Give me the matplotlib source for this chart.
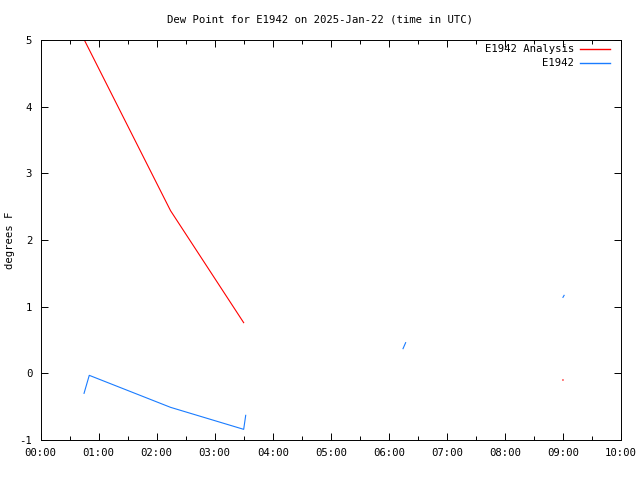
import numpy as np
import matplotlib
matplotlib.use("Agg")
import matplotlib.pyplot as plt
from matplotlib.lines import Line2D

# Data (time in hours UTC, values in degrees F); NaN breaks the line
analysis_t = [0.755, 2.24, 3.50, np.nan, 8.995, 9.005]
analysis_v = [5.00, 2.44, 0.76, np.nan, -0.10, -0.10]

obs_t = [0.75, 0.84, 2.24, 3.50, 3.535, np.nan, 6.245, 6.29, np.nan, 9.00, 9.02]
obs_v = [-0.30, -0.03, -0.51, -0.84, -0.63, np.nan, 0.37, 0.46, np.nan, 1.14, 1.17]

xtick_labels = ["00:00", "01:00", "02:00", "03:00", "04:00", "05:00",
                "06:00", "07:00", "08:00", "09:00", "10:00"]
yticks = [-1, 0, 1, 2, 3, 4, 5]

title = "Dew Point for E1942 on 2025-Jan-22 (time in UTC)"
ylabel = "degrees F"
series_names = ["E1942 Analysis", "E1942"]
colors = ["#ff0000", "#1a7cff"]

FONT = "DejaVu Sans Mono"
FS = 7.7
LW = 0.8

fig = plt.figure(figsize=(6.4, 4.8), dpi=100)
ax = fig.add_axes([40.5 / 640, 40 / 480, (621 - 40.5) / 640, 400 / 480])

ax.plot(analysis_t, analysis_v, color=colors[0], lw=LW)
ax.plot(obs_t, obs_v, color=colors[1], lw=LW)

ax.set_xlim(0, 10)
ax.set_ylim(-1, 5)
ax.set_xticks(range(len(xtick_labels)))
ax.set_xticklabels(xtick_labels, fontfamily=FONT, fontsize=FS)
ax.set_xticks(np.arange(0.5, 10, 1.0), minor=True)
ax.set_yticks(yticks)
ax.set_yticklabels([str(v) for v in yticks], fontfamily=FONT, fontsize=FS)

ax.tick_params(which="both", direction="in", top=True, right=True,
               width=0.7, colors="black")
ax.tick_params(which="major", length=5, pad=6)
ax.tick_params(which="minor", length=3)
for s in ax.spines.values():
    s.set_linewidth(0.7)

fig.text(0.5, 1 - 19 / 480, title, ha="center", va="center",
         fontfamily=FONT, fontsize=FS)
fig.text(10 / 640, 1 - 240 / 480, ylabel, ha="center", va="center",
         rotation=90, fontfamily=FONT, fontsize=FS)

# Legend (gnuplot style: right-justified text, sample line on right)
for i, (name, c) in enumerate(zip(series_names, colors)):
    ypx = 49 + 14 * i
    yf = 1 - ypx / 480
    fig.text(574 / 640, yf, name, ha="right", va="center",
             fontfamily=FONT, fontsize=FS)
    fig.add_artist(Line2D([580 / 640, 610 / 640], [yf, yf], color=c,
                          lw=1.0))

fig.savefig("out.png", dpi=100)
